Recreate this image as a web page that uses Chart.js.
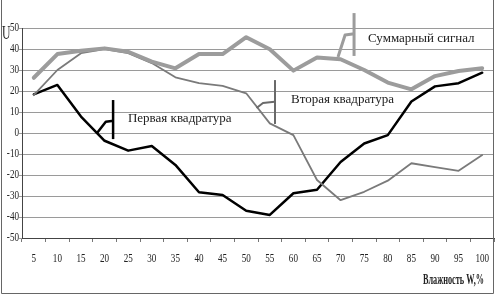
<!DOCTYPE html>
<html>
<head>
<meta charset="utf-8">
<script src="https://cdn.jsdelivr.net/npm/chart.js@4/dist/chart.umd.min.js"></script>
<style>
  html, body { margin: 0; padding: 0; background: #fff; }
  #wrap { width: 495px; height: 295px; position: relative; }
</style>
</head>
<body>
<div id="wrap"><canvas id="c" width="495" height="295"></canvas></div>
<script>
// ===== DATA =====
const humidity = ["5", "10", "15", "20", "25", "30", "35", "40", "45", "50",
  "55", "60", "65", "70", "75", "80", "85", "90", "95", "100"];
const firstQuad = [18.4, 22.9, 7.8, -3.7, -8.4, -6.2, -15.2, -28.2, -29.5, -37,
  -39, -28.7, -27, -13.8, -5, -1, 15, 22.2, 23.7, 28.7];
const secondQuad = [18, 30, 38, 40, 38, 33.3, 26.5, 23.7, 22.4, 18.9,
  4.6, -1, -22.4, -32, -28, -22.7, -14.4, -16.3, -18, -10.5];
const sumSignal = [26.3, 37.6, 39.2, 40.3, 38.7, 34, 30.8, 37.6, 37.6, 45.6,
  39.9, 29.7, 36, 35.1, 30, 24, 20.8, 27.1, 29.5, 30.8];
const yTicks = [50, 40, 30, 20, 10, 0, -10, -20, -30, -40, -50];

// callouts, anchored in axis units (category index, U)
const callouts = [
  { text: "Первая квадратура", color: "#000", width: 2.5,
    bar: [3.36, 15.7, -2.9], hook: [[2.68, 0], [3.05, 5.4], [3.3, 5.7]], tx: 3.99, ty: 7.1 },
  { text: "Вторая квадратура", color: "#6a6a6a", width: 2,
    bar: [10.22, 25.2, 4.3], hook: [[9.44, 11.9], [9.71, 14.3], [10.2, 14.9]], tx: 10.9, ty: 15.7 },
  { text: "Суммарный сигнал", color: "#9c9c9c", width: 3,
    bar: [13.57, 57.1, 36.7], hook: [[12.89, 36.2], [13.19, 46.7], [13.5, 47.1]], tx: 14.16, ty: 45.2 },
];

const SERIF = "'Liberation Serif', 'DejaVu Serif', serif";

// narrow serif text, like the scanned figure
function narrowText(ctx, txt, x, y, sx, align) {
  ctx.save();
  ctx.translate(x, y);
  ctx.scale(sx, 1);
  ctx.textAlign = align;
  ctx.fillText(txt, 0, 0);
  ctx.restore();
}

const decor = {
  id: "decor",
  beforeDraw(chart) {
    const ctx = chart.ctx;
    ctx.save();
    ctx.fillStyle = "#fff";
    ctx.fillRect(0, 0, chart.width, chart.height);
    ctx.restore();
  },
  afterDatasetsDraw(chart) {
    const ctx = chart.ctx;
    const sx = chart.scales.x, sy = chart.scales.y;
    ctx.save();
    callouts.forEach((c) => {
      ctx.strokeStyle = c.color;
      ctx.lineWidth = c.width;
      ctx.lineJoin = "round";
      ctx.beginPath();
      ctx.moveTo(sx.getPixelForValue(c.bar[0]), sy.getPixelForValue(c.bar[1]));
      ctx.lineTo(sx.getPixelForValue(c.bar[0]), sy.getPixelForValue(c.bar[2]));
      ctx.stroke();
      ctx.beginPath();
      c.hook.forEach((p, i) => {
        const px = sx.getPixelForValue(p[0]), py = sy.getPixelForValue(p[1]);
        i ? ctx.lineTo(px, py) : ctx.moveTo(px, py);
      });
      ctx.lineTo(sx.getPixelForValue(c.bar[0]), sy.getPixelForValue(c.hook[c.hook.length - 1][1]));
      ctx.stroke();
      ctx.fillStyle = "#222";
      ctx.font = "13px " + SERIF;
      ctx.textBaseline = "middle";
      ctx.textAlign = "left";
      ctx.fillText(c.text, sx.getPixelForValue(c.tx), sy.getPixelForValue(c.ty));
    });

    // tick labels
    ctx.fillStyle = "#222";
    ctx.textBaseline = "middle";
    ctx.font = "13px " + SERIF;
    yTicks.forEach((v) => narrowText(ctx, String(v), 19, sy.getPixelForValue(v), 0.7, "right"));
    humidity.forEach((h, i) => narrowText(ctx, h, sx.getPixelForValue(i), 259, 0.7, "center"));

    // axis titles
    ctx.font = "18px " + SERIF;
    narrowText(ctx, "U", 2, 34, 0.65, "left");

    ctx.font = "bold 14px " + SERIF;
    const t = "Влажность W,%";
    narrowText(ctx, t, 423, 280, 61 / ctx.measureText(t).width, "left");

    // frame
    ctx.strokeStyle = "#666";
    ctx.lineWidth = 1;
    ctx.beginPath();
    ctx.moveTo(1.5, 0);
    ctx.lineTo(1.5, 293.5);
    ctx.lineTo(493.5, 293.5);
    ctx.lineTo(493.5, 0);
    ctx.stroke();
    ctx.restore();
  },
};

new Chart(document.getElementById("c"), {
  type: "line",
  data: {
    labels: humidity,
    datasets: [
      { label: "Суммарный сигнал", data: sumSignal, borderColor: "#9c9c9c", borderWidth: 4 },
      { label: "Вторая квадратура", data: secondQuad, borderColor: "#7a7a7a", borderWidth: 1.8 },
      { label: "Первая квадратура", data: firstQuad, borderColor: "#000", borderWidth: 2.5 },
    ],
  },
  options: {
    responsive: false,
    animation: false,
    devicePixelRatio: 1,
    layout: { padding: { top: 28, right: 1, bottom: 0, left: 0 } },
    elements: {
      point: { radius: 0 },
      line: { tension: 0, fill: false, borderJoinStyle: "round", borderCapStyle: "round" },
    },
    plugins: { legend: { display: false }, tooltip: { enabled: false } },
    scales: {
      x: {
        type: "category",
        offset: true,
        grid: { offset: true, drawOnChartArea: false, drawTicks: true, tickLength: 4, color: "#777" },
        border: { display: true, color: "#444", width: 1 },
        ticks: { display: false, autoSkip: false },
        afterFit: (s) => { s.height = 57; },
      },
      y: {
        min: -50,
        max: 50,
        afterBuildTicks: (s) => { s.ticks = yTicks.map((v) => ({ value: v })); },
        grid: { color: "#9a9a9a", lineWidth: 1, tickLength: 3 },
        border: { display: true, color: "#444", width: 1 },
        ticks: { display: false },
        afterFit: (s) => { s.width = 22; },
      },
    },
  },
  plugins: [decor],
});
</script>
</body>
</html>
